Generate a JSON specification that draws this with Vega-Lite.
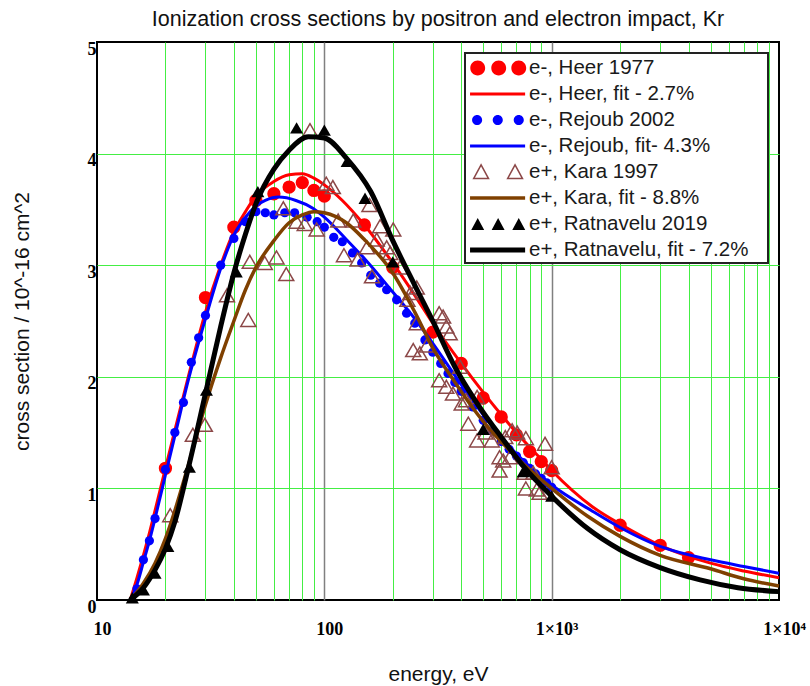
{
  "$schema": "https://vega.github.io/schema/vega-lite/v6.json",
  "width": 682,
  "height": 558,
  "autosize": {"type": "none"},
  "padding": {"left": 97, "top": 42, "right": 31, "bottom": 86},
  "background": "white",
  "title": {"text": "Ionization cross sections by positron and electron impact, Kr", "font": "Liberation Sans", "fontSize": 21.5, "fontWeight": "normal", "color": "#111111", "offset": 10, "anchor": "middle"},
  "config": {
    "view": {"stroke": "#000000", "strokeWidth": 2},
    "legend": {
      "orient": "top-right", "offset": 11, "padding": 2,
      "fillColor": "white", "strokeColor": "#222222", "strokeWidth": 2,
      "labelFont": "Liberation Sans", "labelFontSize": 20.5, "labelColor": "#1a1a1a", "labelLimit": 400,
      "symbolSize": 576, "symbolStrokeWidth": 1.5, "symbolOpacity": 1, "labelOffset": 36, "rowPadding": 2
    }
  },
  "data": {"values": [
    {"series": "e-, Heer 1977", "energy": 20, "cs": 1.18},
    {"series": "e-, Heer 1977", "energy": 30, "cs": 2.71},
    {"series": "e-, Heer 1977", "energy": 40, "cs": 3.34},
    {"series": "e-, Heer 1977", "energy": 50, "cs": 3.58},
    {"series": "e-, Heer 1977", "energy": 60, "cs": 3.64},
    {"series": "e-, Heer 1977", "energy": 70, "cs": 3.70},
    {"series": "e-, Heer 1977", "energy": 80, "cs": 3.74},
    {"series": "e-, Heer 1977", "energy": 90, "cs": 3.67},
    {"series": "e-, Heer 1977", "energy": 100, "cs": 3.62},
    {"series": "e-, Heer 1977", "energy": 150, "cs": 3.36},
    {"series": "e-, Heer 1977", "energy": 200, "cs": 2.98},
    {"series": "e-, Heer 1977", "energy": 300, "cs": 2.40},
    {"series": "e-, Heer 1977", "energy": 400, "cs": 2.12},
    {"series": "e-, Heer 1977", "energy": 500, "cs": 1.81},
    {"series": "e-, Heer 1977", "energy": 600, "cs": 1.64},
    {"series": "e-, Heer 1977", "energy": 700, "cs": 1.48},
    {"series": "e-, Heer 1977", "energy": 800, "cs": 1.33},
    {"series": "e-, Heer 1977", "energy": 900, "cs": 1.24},
    {"series": "e-, Heer 1977", "energy": 1000, "cs": 1.16},
    {"series": "e-, Heer 1977", "energy": 2000, "cs": 0.67},
    {"series": "e-, Heer 1977", "energy": 3000, "cs": 0.49},
    {"series": "e-, Heer 1977", "energy": 4000, "cs": 0.38},

    {"series": "e-, Heer, fit - 2.7%", "energy": 14, "cs": 0},
    {"series": "e-, Heer, fit - 2.7%", "energy": 15, "cs": 0.2},
    {"series": "e-, Heer, fit - 2.7%", "energy": 16, "cs": 0.4},
    {"series": "e-, Heer, fit - 2.7%", "energy": 17, "cs": 0.6},
    {"series": "e-, Heer, fit - 2.7%", "energy": 18, "cs": 0.8},
    {"series": "e-, Heer, fit - 2.7%", "energy": 20, "cs": 1.18},
    {"series": "e-, Heer, fit - 2.7%", "energy": 22, "cs": 1.52},
    {"series": "e-, Heer, fit - 2.7%", "energy": 25, "cs": 1.97},
    {"series": "e-, Heer, fit - 2.7%", "energy": 30, "cs": 2.58},
    {"series": "e-, Heer, fit - 2.7%", "energy": 35, "cs": 3.0},
    {"series": "e-, Heer, fit - 2.7%", "energy": 40, "cs": 3.3},
    {"series": "e-, Heer, fit - 2.7%", "energy": 45, "cs": 3.48},
    {"series": "e-, Heer, fit - 2.7%", "energy": 50, "cs": 3.62},
    {"series": "e-, Heer, fit - 2.7%", "energy": 60, "cs": 3.75},
    {"series": "e-, Heer, fit - 2.7%", "energy": 70, "cs": 3.81},
    {"series": "e-, Heer, fit - 2.7%", "energy": 80, "cs": 3.82},
    {"series": "e-, Heer, fit - 2.7%", "energy": 90, "cs": 3.78},
    {"series": "e-, Heer, fit - 2.7%", "energy": 100, "cs": 3.72},
    {"series": "e-, Heer, fit - 2.7%", "energy": 120, "cs": 3.58},
    {"series": "e-, Heer, fit - 2.7%", "energy": 150, "cs": 3.36},
    {"series": "e-, Heer, fit - 2.7%", "energy": 200, "cs": 3.02},
    {"series": "e-, Heer, fit - 2.7%", "energy": 250, "cs": 2.73},
    {"series": "e-, Heer, fit - 2.7%", "energy": 300, "cs": 2.48},
    {"series": "e-, Heer, fit - 2.7%", "energy": 400, "cs": 2.12},
    {"series": "e-, Heer, fit - 2.7%", "energy": 500, "cs": 1.86},
    {"series": "e-, Heer, fit - 2.7%", "energy": 600, "cs": 1.66},
    {"series": "e-, Heer, fit - 2.7%", "energy": 700, "cs": 1.50},
    {"series": "e-, Heer, fit - 2.7%", "energy": 800, "cs": 1.37},
    {"series": "e-, Heer, fit - 2.7%", "energy": 900, "cs": 1.26},
    {"series": "e-, Heer, fit - 2.7%", "energy": 1000, "cs": 1.16},
    {"series": "e-, Heer, fit - 2.7%", "energy": 1500, "cs": 0.84},
    {"series": "e-, Heer, fit - 2.7%", "energy": 2000, "cs": 0.68},
    {"series": "e-, Heer, fit - 2.7%", "energy": 3000, "cs": 0.49},
    {"series": "e-, Heer, fit - 2.7%", "energy": 5000, "cs": 0.33},
    {"series": "e-, Heer, fit - 2.7%", "energy": 7000, "cs": 0.26},
    {"series": "e-, Heer, fit - 2.7%", "energy": 10000, "cs": 0.20},

    {"series": "e-, Rejoub 2002", "energy": 15, "cs": 0.10},
    {"series": "e-, Rejoub 2002", "energy": 16, "cs": 0.36},
    {"series": "e-, Rejoub 2002", "energy": 17, "cs": 0.53},
    {"series": "e-, Rejoub 2002", "energy": 18, "cs": 0.73},
    {"series": "e-, Rejoub 2002", "energy": 20, "cs": 1.17},
    {"series": "e-, Rejoub 2002", "energy": 22, "cs": 1.50},
    {"series": "e-, Rejoub 2002", "energy": 24, "cs": 1.77},
    {"series": "e-, Rejoub 2002", "energy": 26, "cs": 2.13},
    {"series": "e-, Rejoub 2002", "energy": 28, "cs": 2.35},
    {"series": "e-, Rejoub 2002", "energy": 30, "cs": 2.55},
    {"series": "e-, Rejoub 2002", "energy": 35, "cs": 3.00},
    {"series": "e-, Rejoub 2002", "energy": 40, "cs": 3.24},
    {"series": "e-, Rejoub 2002", "energy": 45, "cs": 3.39},
    {"series": "e-, Rejoub 2002", "energy": 50, "cs": 3.48},
    {"series": "e-, Rejoub 2002", "energy": 55, "cs": 3.47},
    {"series": "e-, Rejoub 2002", "energy": 60, "cs": 3.45},
    {"series": "e-, Rejoub 2002", "energy": 67, "cs": 3.47},
    {"series": "e-, Rejoub 2002", "energy": 74, "cs": 3.47},
    {"series": "e-, Rejoub 2002", "energy": 84, "cs": 3.43},
    {"series": "e-, Rejoub 2002", "energy": 93, "cs": 3.39},
    {"series": "e-, Rejoub 2002", "energy": 100, "cs": 3.34},
    {"series": "e-, Rejoub 2002", "energy": 110, "cs": 3.25},
    {"series": "e-, Rejoub 2002", "energy": 120, "cs": 3.21},
    {"series": "e-, Rejoub 2002", "energy": 133, "cs": 3.11},
    {"series": "e-, Rejoub 2002", "energy": 146, "cs": 3.02},
    {"series": "e-, Rejoub 2002", "energy": 160, "cs": 2.91},
    {"series": "e-, Rejoub 2002", "energy": 175, "cs": 2.84},
    {"series": "e-, Rejoub 2002", "energy": 188, "cs": 2.78},
    {"series": "e-, Rejoub 2002", "energy": 208, "cs": 2.69},
    {"series": "e-, Rejoub 2002", "energy": 230, "cs": 2.57},
    {"series": "e-, Rejoub 2002", "energy": 250, "cs": 2.48},
    {"series": "e-, Rejoub 2002", "energy": 277, "cs": 2.33},
    {"series": "e-, Rejoub 2002", "energy": 300, "cs": 2.22},
    {"series": "e-, Rejoub 2002", "energy": 325, "cs": 2.12},
    {"series": "e-, Rejoub 2002", "energy": 350, "cs": 2.03},
    {"series": "e-, Rejoub 2002", "energy": 375, "cs": 1.95},
    {"series": "e-, Rejoub 2002", "energy": 400, "cs": 1.87},
    {"series": "e-, Rejoub 2002", "energy": 450, "cs": 1.73},
    {"series": "e-, Rejoub 2002", "energy": 500, "cs": 1.61},
    {"series": "e-, Rejoub 2002", "energy": 550, "cs": 1.51},
    {"series": "e-, Rejoub 2002", "energy": 600, "cs": 1.42},
    {"series": "e-, Rejoub 2002", "energy": 650, "cs": 1.35},
    {"series": "e-, Rejoub 2002", "energy": 700, "cs": 1.29},
    {"series": "e-, Rejoub 2002", "energy": 750, "cs": 1.23},
    {"series": "e-, Rejoub 2002", "energy": 800, "cs": 1.18},
    {"series": "e-, Rejoub 2002", "energy": 850, "cs": 1.13},
    {"series": "e-, Rejoub 2002", "energy": 900, "cs": 1.09},
    {"series": "e-, Rejoub 2002", "energy": 950, "cs": 1.05},
    {"series": "e-, Rejoub 2002", "energy": 1000, "cs": 1.01},

    {"series": "e-, Rejoub, fit- 4.3%", "energy": 14, "cs": 0},
    {"series": "e-, Rejoub, fit- 4.3%", "energy": 15, "cs": 0.14},
    {"series": "e-, Rejoub, fit- 4.3%", "energy": 16, "cs": 0.34},
    {"series": "e-, Rejoub, fit- 4.3%", "energy": 17, "cs": 0.53},
    {"series": "e-, Rejoub, fit- 4.3%", "energy": 18, "cs": 0.73},
    {"series": "e-, Rejoub, fit- 4.3%", "energy": 20, "cs": 1.12},
    {"series": "e-, Rejoub, fit- 4.3%", "energy": 22, "cs": 1.47},
    {"series": "e-, Rejoub, fit- 4.3%", "energy": 25, "cs": 1.94},
    {"series": "e-, Rejoub, fit- 4.3%", "energy": 30, "cs": 2.52},
    {"series": "e-, Rejoub, fit- 4.3%", "energy": 35, "cs": 2.97},
    {"series": "e-, Rejoub, fit- 4.3%", "energy": 40, "cs": 3.27},
    {"series": "e-, Rejoub, fit- 4.3%", "energy": 45, "cs": 3.43},
    {"series": "e-, Rejoub, fit- 4.3%", "energy": 50, "cs": 3.53},
    {"series": "e-, Rejoub, fit- 4.3%", "energy": 55, "cs": 3.58},
    {"series": "e-, Rejoub, fit- 4.3%", "energy": 63, "cs": 3.61},
    {"series": "e-, Rejoub, fit- 4.3%", "energy": 75, "cs": 3.58},
    {"series": "e-, Rejoub, fit- 4.3%", "energy": 89, "cs": 3.51},
    {"series": "e-, Rejoub, fit- 4.3%", "energy": 100, "cs": 3.43},
    {"series": "e-, Rejoub, fit- 4.3%", "energy": 125, "cs": 3.23},
    {"series": "e-, Rejoub, fit- 4.3%", "energy": 150, "cs": 3.06},
    {"series": "e-, Rejoub, fit- 4.3%", "energy": 200, "cs": 2.76},
    {"series": "e-, Rejoub, fit- 4.3%", "energy": 250, "cs": 2.52},
    {"series": "e-, Rejoub, fit- 4.3%", "energy": 300, "cs": 2.30},
    {"series": "e-, Rejoub, fit- 4.3%", "energy": 400, "cs": 1.93},
    {"series": "e-, Rejoub, fit- 4.3%", "energy": 500, "cs": 1.66},
    {"series": "e-, Rejoub, fit- 4.3%", "energy": 700, "cs": 1.31},
    {"series": "e-, Rejoub, fit- 4.3%", "energy": 1000, "cs": 1.03},
    {"series": "e-, Rejoub, fit- 4.3%", "energy": 1500, "cs": 0.80},
    {"series": "e-, Rejoub, fit- 4.3%", "energy": 2000, "cs": 0.65},
    {"series": "e-, Rejoub, fit- 4.3%", "energy": 3000, "cs": 0.48},
    {"series": "e-, Rejoub, fit- 4.3%", "energy": 5000, "cs": 0.36},
    {"series": "e-, Rejoub, fit- 4.3%", "energy": 7000, "cs": 0.30},
    {"series": "e-, Rejoub, fit- 4.3%", "energy": 10000, "cs": 0.24},

    {"series": "e+, Kara 1997", "energy": 21, "cs": 0.76},
    {"series": "e+, Kara 1997", "energy": 26.4, "cs": 1.48},
    {"series": "e+, Kara 1997", "energy": 29.8, "cs": 1.57},
    {"series": "e+, Kara 1997", "energy": 37.3, "cs": 2.73},
    {"series": "e+, Kara 1997", "energy": 46.3, "cs": 2.51},
    {"series": "e+, Kara 1997", "energy": 47, "cs": 3.03},
    {"series": "e+, Kara 1997", "energy": 54.7, "cs": 3.02},
    {"series": "e+, Kara 1997", "energy": 61.6, "cs": 3.07},
    {"series": "e+, Kara 1997", "energy": 68, "cs": 2.92},
    {"series": "e+, Kara 1997", "energy": 66, "cs": 3.51},
    {"series": "e+, Kara 1997", "energy": 75.5, "cs": 3.39},
    {"series": "e+, Kara 1997", "energy": 82, "cs": 3.37},
    {"series": "e+, Kara 1997", "energy": 86.5, "cs": 4.21},
    {"series": "e+, Kara 1997", "energy": 92.5, "cs": 3.32},
    {"series": "e+, Kara 1997", "energy": 102, "cs": 3.73},
    {"series": "e+, Kara 1997", "energy": 109, "cs": 3.70},
    {"series": "e+, Kara 1997", "energy": 115, "cs": 3.40},
    {"series": "e+, Kara 1997", "energy": 122, "cs": 3.09},
    {"series": "e+, Kara 1997", "energy": 134, "cs": 3.40},
    {"series": "e+, Kara 1997", "energy": 140, "cs": 3.05},
    {"series": "e+, Kara 1997", "energy": 154, "cs": 3.16},
    {"series": "e+, Kara 1997", "energy": 158, "cs": 3.54},
    {"series": "e+, Kara 1997", "energy": 162, "cs": 2.90},
    {"series": "e+, Kara 1997", "energy": 170, "cs": 3.23},
    {"series": "e+, Kara 1997", "energy": 176, "cs": 3.35},
    {"series": "e+, Kara 1997", "energy": 188, "cs": 3.16},
    {"series": "e+, Kara 1997", "energy": 195, "cs": 3.11},
    {"series": "e+, Kara 1997", "energy": 201, "cs": 3.32},
    {"series": "e+, Kara 1997", "energy": 215, "cs": 2.98},
    {"series": "e+, Kara 1997", "energy": 232, "cs": 2.69},
    {"series": "e+, Kara 1997", "energy": 239, "cs": 2.75},
    {"series": "e+, Kara 1997", "energy": 255, "cs": 2.80},
    {"series": "e+, Kara 1997", "energy": 255, "cs": 2.48},
    {"series": "e+, Kara 1997", "energy": 246, "cs": 2.24},
    {"series": "e+, Kara 1997", "energy": 263, "cs": 2.21},
    {"series": "e+, Kara 1997", "energy": 282, "cs": 2.28},
    {"series": "e+, Kara 1997", "energy": 320, "cs": 2.57},
    {"series": "e+, Kara 1997", "energy": 333, "cs": 2.54},
    {"series": "e+, Kara 1997", "energy": 344, "cs": 2.45},
    {"series": "e+, Kara 1997", "energy": 356, "cs": 2.39},
    {"series": "e+, Kara 1997", "energy": 320, "cs": 1.97},
    {"series": "e+, Kara 1997", "energy": 344, "cs": 1.91},
    {"series": "e+, Kara 1997", "energy": 368, "cs": 1.85},
    {"series": "e+, Kara 1997", "energy": 396, "cs": 2.09},
    {"series": "e+, Kara 1997", "energy": 402, "cs": 1.76},
    {"series": "e+, Kara 1997", "energy": 420, "cs": 1.79},
    {"series": "e+, Kara 1997", "energy": 430, "cs": 1.58},
    {"series": "e+, Kara 1997", "energy": 470, "cs": 1.82},
    {"series": "e+, Kara 1997", "energy": 470, "cs": 1.43},
    {"series": "e+, Kara 1997", "energy": 512, "cs": 1.50},
    {"series": "e+, Kara 1997", "energy": 545, "cs": 1.43},
    {"series": "e+, Kara 1997", "energy": 590, "cs": 1.28},
    {"series": "e+, Kara 1997", "energy": 590, "cs": 1.16},
    {"series": "e+, Kara 1997", "energy": 612, "cs": 1.25},
    {"series": "e+, Kara 1997", "energy": 625, "cs": 1.46},
    {"series": "e+, Kara 1997", "energy": 655, "cs": 1.28},
    {"series": "e+, Kara 1997", "energy": 670, "cs": 1.52},
    {"series": "e+, Kara 1997", "energy": 705, "cs": 1.50},
    {"series": "e+, Kara 1997", "energy": 760, "cs": 1.14},
    {"series": "e+, Kara 1997", "energy": 770, "cs": 1.00},
    {"series": "e+, Kara 1997", "energy": 770, "cs": 1.45},
    {"series": "e+, Kara 1997", "energy": 830, "cs": 1.14},
    {"series": "e+, Kara 1997", "energy": 860, "cs": 0.99},
    {"series": "e+, Kara 1997", "energy": 885, "cs": 0.96},
    {"series": "e+, Kara 1997", "energy": 935, "cs": 1.40},
    {"series": "e+, Kara 1997", "energy": 1000, "cs": 1.19},

    {"series": "e+, Kara, fit - 8.8%", "energy": 14, "cs": 0},
    {"series": "e+, Kara, fit - 8.8%", "energy": 15, "cs": 0.07},
    {"series": "e+, Kara, fit - 8.8%", "energy": 16, "cs": 0.15},
    {"series": "e+, Kara, fit - 8.8%", "energy": 18, "cs": 0.33},
    {"series": "e+, Kara, fit - 8.8%", "energy": 20, "cs": 0.55},
    {"series": "e+, Kara, fit - 8.8%", "energy": 22, "cs": 0.8},
    {"series": "e+, Kara, fit - 8.8%", "energy": 25, "cs": 1.18},
    {"series": "e+, Kara, fit - 8.8%", "energy": 30, "cs": 1.75},
    {"series": "e+, Kara, fit - 8.8%", "energy": 35, "cs": 2.17},
    {"series": "e+, Kara, fit - 8.8%", "energy": 40, "cs": 2.5},
    {"series": "e+, Kara, fit - 8.8%", "energy": 45, "cs": 2.78},
    {"series": "e+, Kara, fit - 8.8%", "energy": 50, "cs": 2.98},
    {"series": "e+, Kara, fit - 8.8%", "energy": 60, "cs": 3.22},
    {"series": "e+, Kara, fit - 8.8%", "energy": 70, "cs": 3.38},
    {"series": "e+, Kara, fit - 8.8%", "energy": 80, "cs": 3.45},
    {"series": "e+, Kara, fit - 8.8%", "energy": 90, "cs": 3.48},
    {"series": "e+, Kara, fit - 8.8%", "energy": 100, "cs": 3.47},
    {"series": "e+, Kara, fit - 8.8%", "energy": 125, "cs": 3.38},
    {"series": "e+, Kara, fit - 8.8%", "energy": 150, "cs": 3.23},
    {"series": "e+, Kara, fit - 8.8%", "energy": 200, "cs": 2.93},
    {"series": "e+, Kara, fit - 8.8%", "energy": 250, "cs": 2.58},
    {"series": "e+, Kara, fit - 8.8%", "energy": 300, "cs": 2.26},
    {"series": "e+, Kara, fit - 8.8%", "energy": 370, "cs": 1.97},
    {"series": "e+, Kara, fit - 8.8%", "energy": 450, "cs": 1.72},
    {"series": "e+, Kara, fit - 8.8%", "energy": 500, "cs": 1.6},
    {"series": "e+, Kara, fit - 8.8%", "energy": 700, "cs": 1.28},
    {"series": "e+, Kara, fit - 8.8%", "energy": 1000, "cs": 1.0},
    {"series": "e+, Kara, fit - 8.8%", "energy": 1440, "cs": 0.75},
    {"series": "e+, Kara, fit - 8.8%", "energy": 2000, "cs": 0.57},
    {"series": "e+, Kara, fit - 8.8%", "energy": 3000, "cs": 0.40},
    {"series": "e+, Kara, fit - 8.8%", "energy": 5000, "cs": 0.28},
    {"series": "e+, Kara, fit - 8.8%", "energy": 7000, "cs": 0.19},
    {"series": "e+, Kara, fit - 8.8%", "energy": 10000, "cs": 0.125},

    {"series": "e+, Ratnavelu 2019", "energy": 14.3, "cs": 0.02},
    {"series": "e+, Ratnavelu 2019", "energy": 16, "cs": 0.09},
    {"series": "e+, Ratnavelu 2019", "energy": 18, "cs": 0.24},
    {"series": "e+, Ratnavelu 2019", "energy": 20.5, "cs": 0.48},
    {"series": "e+, Ratnavelu 2019", "energy": 25.5, "cs": 1.19},
    {"series": "e+, Ratnavelu 2019", "energy": 30.3, "cs": 1.88},
    {"series": "e+, Ratnavelu 2019", "energy": 41, "cs": 2.94},
    {"series": "e+, Ratnavelu 2019", "energy": 51, "cs": 3.66},
    {"series": "e+, Ratnavelu 2019", "energy": 75.5, "cs": 4.23},
    {"series": "e+, Ratnavelu 2019", "energy": 100, "cs": 4.21},
    {"series": "e+, Ratnavelu 2019", "energy": 126, "cs": 3.93},
    {"series": "e+, Ratnavelu 2019", "energy": 151, "cs": 3.60},
    {"series": "e+, Ratnavelu 2019", "energy": 200, "cs": 3.03},
    {"series": "e+, Ratnavelu 2019", "energy": 500, "cs": 1.53},
    {"series": "e+, Ratnavelu 2019", "energy": 750, "cs": 1.15},
    {"series": "e+, Ratnavelu 2019", "energy": 1000, "cs": 0.93},

    {"series": "e+, Ratnavelu, fit - 7.2%", "energy": 14, "cs": 0},
    {"series": "e+, Ratnavelu, fit - 7.2%", "energy": 15, "cs": 0.05},
    {"series": "e+, Ratnavelu, fit - 7.2%", "energy": 16, "cs": 0.11},
    {"series": "e+, Ratnavelu, fit - 7.2%", "energy": 18, "cs": 0.27},
    {"series": "e+, Ratnavelu, fit - 7.2%", "energy": 20, "cs": 0.46},
    {"series": "e+, Ratnavelu, fit - 7.2%", "energy": 22, "cs": 0.7},
    {"series": "e+, Ratnavelu, fit - 7.2%", "energy": 25, "cs": 1.15},
    {"series": "e+, Ratnavelu, fit - 7.2%", "energy": 30, "cs": 1.85},
    {"series": "e+, Ratnavelu, fit - 7.2%", "energy": 35, "cs": 2.45},
    {"series": "e+, Ratnavelu, fit - 7.2%", "energy": 40, "cs": 2.93},
    {"series": "e+, Ratnavelu, fit - 7.2%", "energy": 45, "cs": 3.28},
    {"series": "e+, Ratnavelu, fit - 7.2%", "energy": 50, "cs": 3.55},
    {"series": "e+, Ratnavelu, fit - 7.2%", "energy": 60, "cs": 3.86},
    {"series": "e+, Ratnavelu, fit - 7.2%", "energy": 70, "cs": 4.03},
    {"series": "e+, Ratnavelu, fit - 7.2%", "energy": 85, "cs": 4.15},
    {"series": "e+, Ratnavelu, fit - 7.2%", "energy": 100, "cs": 4.14},
    {"series": "e+, Ratnavelu, fit - 7.2%", "energy": 125, "cs": 3.96},
    {"series": "e+, Ratnavelu, fit - 7.2%", "energy": 160, "cs": 3.66},
    {"series": "e+, Ratnavelu, fit - 7.2%", "energy": 200, "cs": 3.22},
    {"series": "e+, Ratnavelu, fit - 7.2%", "energy": 250, "cs": 2.82},
    {"series": "e+, Ratnavelu, fit - 7.2%", "energy": 300, "cs": 2.50},
    {"series": "e+, Ratnavelu, fit - 7.2%", "energy": 375, "cs": 2.09},
    {"series": "e+, Ratnavelu, fit - 7.2%", "energy": 460, "cs": 1.79},
    {"series": "e+, Ratnavelu, fit - 7.2%", "energy": 500, "cs": 1.68},
    {"series": "e+, Ratnavelu, fit - 7.2%", "energy": 600, "cs": 1.46},
    {"series": "e+, Ratnavelu, fit - 7.2%", "energy": 750, "cs": 1.2},
    {"series": "e+, Ratnavelu, fit - 7.2%", "energy": 1000, "cs": 0.93},
    {"series": "e+, Ratnavelu, fit - 7.2%", "energy": 1440, "cs": 0.64},
    {"series": "e+, Ratnavelu, fit - 7.2%", "energy": 2000, "cs": 0.45},
    {"series": "e+, Ratnavelu, fit - 7.2%", "energy": 3000, "cs": 0.29},
    {"series": "e+, Ratnavelu, fit - 7.2%", "energy": 4500, "cs": 0.18},
    {"series": "e+, Ratnavelu, fit - 7.2%", "energy": 6600, "cs": 0.11},
    {"series": "e+, Ratnavelu, fit - 7.2%", "energy": 10000, "cs": 0.075}
  ]},
  "encoding": {
    "x": {
      "field": "energy", "type": "quantitative",
      "scale": {"type": "log", "domain": [10, 10000], "nice": false},
      "axis": {
        "title": "energy, eV", "titleFont": "Liberation Sans", "titleFontSize": 21, "titleFontWeight": "normal", "titleColor": "#111111", "titlePadding": 25,
        "values": [10, 20, 30, 40, 50, 60, 70, 80, 90, 100, 200, 300, 400, 500, 600, 700, 800, 900, 1000, 2000, 3000, 4000, 5000, 6000, 7000, 8000, 9000, 10000],
        "labelExpr": "datum.value == 10 ? '10' : datum.value == 100 ? '100' : datum.value == 1000 ? '1×10³' : datum.value == 10000 ? '1×10⁴' : ''",
        "labelFont": "Liberation Serif", "labelFontWeight": "bold", "labelFontSize": 18, "labelColor": "#000000",
        "labelPadding": 20, "labelOffset": 5, "labelFlush": false, "labelOverlap": false, "labelBound": false,
        "ticks": false, "domain": false, "grid": true,
        "gridColor": {"condition": [
          {"test": "datum.value == 10 || datum.value == 10000", "value": "transparent"},
          {"test": "datum.value == 100 || datum.value == 1000", "value": "#808080"}
        ], "value": "#44ee44"},
        "gridWidth": {"condition": {"test": "datum.value == 100 || datum.value == 1000", "value": 1.5}, "value": 1},
        "gridOpacity": 1
      }
    },
    "y": {
      "field": "cs", "type": "quantitative",
      "scale": {"domain": [0, 5], "nice": false, "zero": false},
      "axis": {
        "title": "cross section / 10^-16 cm^2", "titleFont": "Liberation Sans", "titleFontSize": 21, "titleFontWeight": "normal", "titleColor": "#111111", "titlePadding": 55,
        "values": [0, 1, 2, 3, 4, 5],
        "labelFont": "Liberation Serif", "labelFontWeight": "bold", "labelFontSize": 18, "labelColor": "#000000",
        "labelPadding": 1, "labelAlign": "right", "labelBaseline": "top", "labelOffset": -2, "labelFlush": false, "labelOverlap": false,
        "ticks": false, "domain": false, "grid": true,
        "gridColor": {"condition": {"test": "datum.value == 0 || datum.value == 5", "value": "transparent"}, "value": "#44ee44"},
        "gridWidth": 1, "gridOpacity": 1
      }
    }
  },
  "layer": [
    {"transform": [{"filter": "datum.series === 'e-, Heer 1977'"}], "mark": {"type": "point", "shape": "circle", "filled": true, "size": 177, "opacity": 1, "strokeWidth": 0, "color": "#ff0000"}},
    {"transform": [{"filter": "datum.series === 'e-, Heer, fit - 2.7%'"}], "mark": {"type": "line", "strokeWidth": 3, "interpolate": "monotone", "color": "#ff0000"}},
    {"transform": [{"filter": "datum.series === 'e-, Rejoub 2002'"}], "mark": {"type": "point", "shape": "circle", "filled": true, "size": 85, "opacity": 1, "strokeWidth": 0, "color": "#0000ff"}},
    {"transform": [{"filter": "datum.series === 'e-, Rejoub, fit- 4.3%'"}], "mark": {"type": "line", "strokeWidth": 3, "interpolate": "monotone", "color": "#0000ff"}},
    {"transform": [{"filter": "datum.series === 'e+, Kara 1997'"}], "mark": {"type": "point", "shape": "triangle-up", "filled": false, "size": 225, "opacity": 1, "strokeWidth": 1.5, "color": "#8c4848"}},
    {"transform": [{"filter": "datum.series === 'e+, Kara, fit - 8.8%'"}], "mark": {"type": "line", "strokeWidth": 3.5, "interpolate": "monotone", "color": "#7f4000"}},
    {"transform": [{"filter": "datum.series === 'e+, Ratnavelu 2019'"}], "mark": {"type": "point", "shape": "triangle-up", "filled": true, "size": 170, "opacity": 1, "strokeWidth": 0, "color": "#000000"}},
    {"transform": [{"filter": "datum.series === 'e+, Ratnavelu, fit - 7.2%'"}], "mark": {"type": "line", "strokeWidth": 5, "interpolate": "monotone", "color": "#000000"}},
    {
      "transform": [{"filter": "false"}],
      "mark": {"type": "point", "filled": true, "size": 576, "opacity": 1},
      "encoding": {
        "fill": {
          "field": "series", "type": "nominal",
          "scale": {
            "domain": ["e-, Heer 1977", "e-, Heer, fit - 2.7%", "e-, Rejoub 2002", "e-, Rejoub, fit- 4.3%", "e+, Kara 1997", "e+, Kara, fit - 8.8%", "e+, Ratnavelu 2019", "e+, Ratnavelu, fit - 7.2%"],
            "range": ["#ff0000", "#ff0000", "#0000ff", "#0000ff", "transparent", "#7f4000", "#000000", "#000000"]
          },
          "legend": {"title": null}
        },
        "stroke": {
          "field": "series", "type": "nominal",
          "scale": {
            "domain": ["e-, Heer 1977", "e-, Heer, fit - 2.7%", "e-, Rejoub 2002", "e-, Rejoub, fit- 4.3%", "e+, Kara 1997", "e+, Kara, fit - 8.8%", "e+, Ratnavelu 2019", "e+, Ratnavelu, fit - 7.2%"],
            "range": ["transparent", "transparent", "transparent", "transparent", "#8c4848", "transparent", "transparent", "transparent"]
          },
          "legend": {"title": null}
        },
        "shape": {
          "field": "series", "type": "nominal",
          "scale": {
            "domain": ["e-, Heer 1977", "e-, Heer, fit - 2.7%", "e-, Rejoub 2002", "e-, Rejoub, fit- 4.3%", "e+, Kara 1997", "e+, Kara, fit - 8.8%", "e+, Ratnavelu 2019", "e+, Ratnavelu, fit - 7.2%"],
            "range": [
              "M-0.81,0A0.62,0.62 0 1 0 0.43,0A0.62,0.62 0 1 0 -0.81,0Z M0.94,0A0.62,0.62 0 1 0 2.18,0A0.62,0.62 0 1 0 0.94,0Z M2.61,0A0.62,0.62 0 1 0 3.85,0A0.62,0.62 0 1 0 2.61,0Z M23.55,0",
              "M-0.83,-0.13H3.76V0.13H-0.83Z",
              "M-0.66,0A0.42,0.42 0 1 0 0.18,0A0.42,0.42 0 1 0 -0.66,0Z M1.06,0A0.42,0.42 0 1 0 1.9,0A0.42,0.42 0 1 0 1.06,0Z M2.81,0A0.42,0.42 0 1 0 3.65,0A0.42,0.42 0 1 0 2.81,0Z",
              "M-0.83,-0.13H3.76V0.13H-0.83Z",
              "M-0.53,0.55L0.09,-0.6L0.71,0.55Z M2.3,0.55L2.92,-0.6L3.54,0.55Z",
              "M-0.83,-0.15H3.76V0.15H-0.83Z",
              "M-0.73,0.5L-0.19,-0.5L0.35,0.5Z M0.97,0.5L1.51,-0.5L2.05,0.5Z M2.69,0.5L3.23,-0.5L3.77,0.5Z",
              "M-0.83,-0.21H3.76V0.21H-0.83Z"
            ]
          },
          "legend": {"title": null}
        }
      }
    }
  ]
}
